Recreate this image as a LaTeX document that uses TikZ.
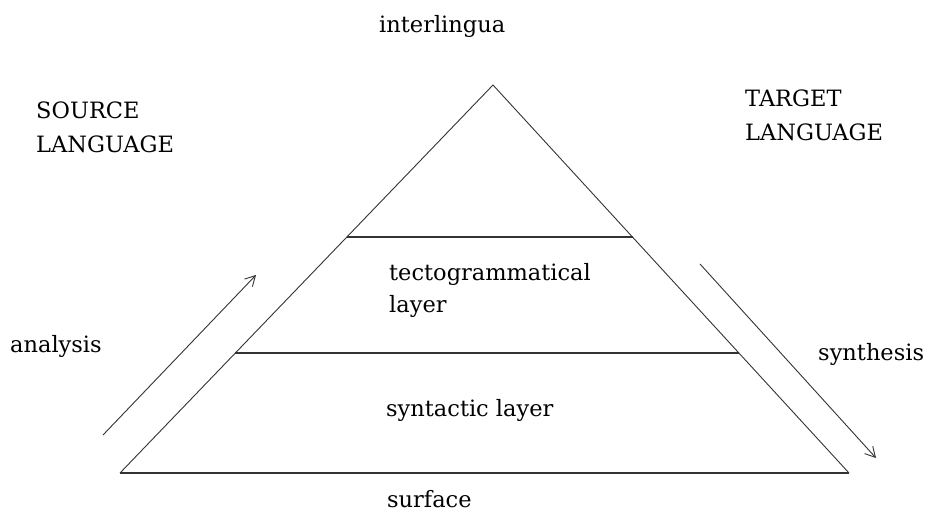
\documentclass[tikz,border=0pt]{standalone}
\usepackage{fontspec}
\setmainfont{DejaVu Serif}
\usepackage{tikz}
\usetikzlibrary{arrows.meta, calc}
\tikzset{every node/.style={font=\fontsize{22.5}{34}\selectfont, inner sep=0pt, text=textcol}}
\colorlet{linecol}{black!80}
\colorlet{textcol}{black}

\begin{document}
\begin{tikzpicture}[x=1pt, y=-1pt, >={Straight Barb[length=10pt, width=11pt]}]

  \useasboundingbox (0,0) rectangle (929,513);

  % Pyramid corners.
  \coordinate (apex)  at (493,85);
  \coordinate (baseL) at (120,473);
  \coordinate (baseR) at (849,473);

  % Pyramid outline.
  \draw[linecol, line width=0.9pt] (baseL) -- (apex) -- (baseR);
  \draw[linecol, line width=1.6pt] (baseL) -- (baseR);

  % Layer boundaries.
  \draw[linecol, line width=1.4pt]
    ($(baseL)!0.608!(apex)$) -- ($(baseR)!0.608!(apex)$);
  \draw[linecol, line width=1.4pt]
    ($(baseL)!0.309!(apex)$) -- ($(baseR)!0.309!(apex)$);

  % Analysis / synthesis arrows.
  \coordinate (anaFrom) at (103,435);
  \coordinate (anaTo)   at (256,275);
  \coordinate (synFrom) at (700,264);
  \coordinate (synTo)   at (876,458);
  \draw[->, linecol, line width=0.9pt] (anaFrom) -- (anaTo);
  \draw[->, linecol, line width=0.9pt] (synFrom) -- (synTo);

  % Labels.
  \node[anchor=base west] (interlingua) at (379,33) {interlingua};
  \node[anchor=north west, align=left] (source) at (36,102) {SOURCE\\LANGUAGE};
  \node[anchor=north west, align=left] (target) at (745,90) {TARGET\\LANGUAGE};
  \node[anchor=north west, align=left, font=\fontsize{22.5}{32}\selectfont]
    (tecto) at (389,263) {tectogrammatical\\layer};
  \node[anchor=base west] (syntactic) at (386,416) {syntactic layer};
  \node[anchor=base west] (surface) at (387,507) {surface};
  \node[anchor=base west] (analysis) at (10,352) {analysis};
  \node[anchor=base west] (synthesis) at (818,360) {synthesis};

\end{tikzpicture}
\end{document}
